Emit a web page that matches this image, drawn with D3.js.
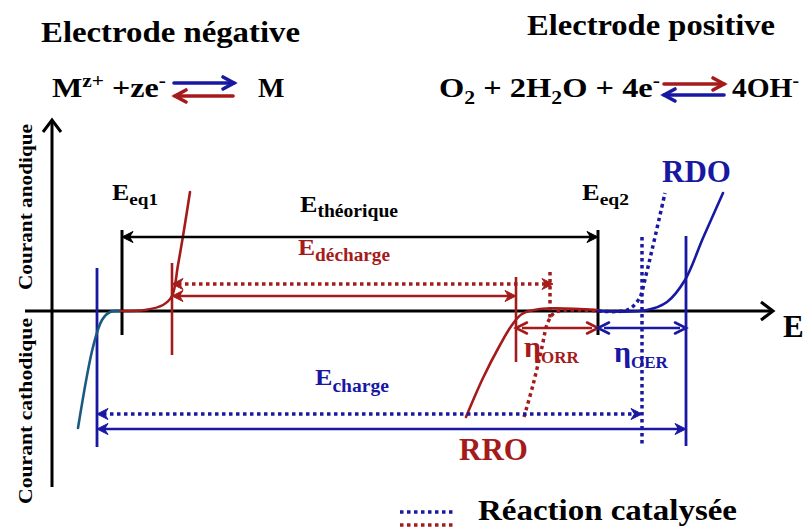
<!DOCTYPE html>
<html><head><meta charset="utf-8">
<script src="https://cdn.jsdelivr.net/npm/d3@7"></script>
<style>
html,body{margin:0;padding:0;background:#fff;}
svg{display:block;font-family:"Liberation Serif","Times New Roman",serif;font-weight:bold;}
</style></head>
<body>
<svg id="c" width="806" height="529"></svg>
<script>
// ---- data (potential E in arbitrary units, current I in arbitrary units) ----
const E_DOMAIN = [-25, 723];          // extent of the E axis
const I_DOMAIN = [-176, 191];         // extent of the current axis
const eqPotentials = [72, 548];       // Eeq1, Eeq2
const eqSpan = [-24, 81];
const negTeal = [[28,-117],[43,-36],[52,-9],[60,-1],[71,0]];
const negRed = [[71,0],[95,1],[113,6],[122,15],[128,46],[134,81],[140,119]];
const orrCurve = [[416,-106],[433,-67],[450,-34],[462,-14],[472,-3],[490,2],[548,1]];
const orrCatCurve = [[474,-106],[483,-74],[492,-36],[498,-11],[506,-1],[548,0]];
const oerCurve = [[548,0],[597,1],[617,9],[635,31],[653,73],[673,118]];
const oerCatCurve = [[548,0],[577,1],[589,12],[596,36],[602,61],[615,118]];
const redMarkers = [[122,48,-44],[466,34,-51]];
const redCatMarkers = [[500,39,-9]];
const blueMarkers = [[47,43,-136],[636,75,-135]];
const blueCatMarkers = [[592,74,-136]];
const ethArrow = [72,548,74];
const dechSolid = [122,466,15];
const dechDotted = [122,503,27];
const chSolid = [47,636,-118];
const chDotted = [47,592,-103];
const etaORR = [466,548,-17];
const etaOER = [548,636,-17];

const RED = "#a51b1b", BLUE = "#1818a3", TEAL = "#1b5a80", BLACK = "#000";

const svg = d3.select("#c");
const x = d3.scaleLinear().domain([0, 725]).range([50, 775]);
const y = d3.scaleLinear().domain(I_DOMAIN).range([487, 120]);

const line = d3.line().x(d => x(d[0])).y(d => y(d[1])).curve(d3.curveCatmullRom.alpha(0.5));

// axes
const ax = svg.append("g").attr("stroke", BLACK).attr("stroke-width", 3).attr("fill", "none");
ax.append("line").attr("x1", x(E_DOMAIN[0])).attr("x2", x(E_DOMAIN[1])).attr("y1", y(0)).attr("y2", y(0));
ax.append("line").attr("x1", x(2)).attr("x2", x(2)).attr("y1", y(I_DOMAIN[0])).attr("y2", y(I_DOMAIN[1]));
ax.append("path").attr("d", `M${x(E_DOMAIN[1])-12},${y(0)-9}L${x(E_DOMAIN[1])},${y(0)}L${x(E_DOMAIN[1])-12},${y(0)+9}`);
ax.append("path").attr("d", `M${x(2)-9},${y(I_DOMAIN[1])+12}L${x(2)},${y(I_DOMAIN[1])}L${x(2)+9},${y(I_DOMAIN[1])+12}`);

// arrowhead helpers
function head(g, tx, ty, dir, color, open) {
  const L = 11, W = 5.5;
  if (open) {
    g.append("path").attr("d", `M${tx - dir*L},${ty-W}L${tx},${ty}L${tx - dir*L},${ty+W}`)
      .attr("fill","none").attr("stroke",color).attr("stroke-width",2.6).attr("stroke-linecap","round");
  } else {
    g.append("path").attr("d", `M${tx},${ty}L${tx - dir*L},${ty-W}L${tx - dir*7.5},${ty}L${tx - dir*L},${ty+W}Z`)
      .attr("fill",color).attr("stroke",color).attr("stroke-width",1);
  }
}
function dblArrow(a, color, dotted, open, heads) {
  const g = svg.append("g");
  const x0 = x(a[0]), x1 = x(a[1]), yy = y(a[2]);
  const l = g.append("line").attr("x1", x0 + 6).attr("x2", x1 - 6).attr("y1", yy).attr("y2", yy)
    .attr("stroke", color).attr("stroke-width", dotted ? 3.5 : 2.6);
  if (dotted) l.attr("stroke-dasharray", "3.5,3.5");
  if (heads !== "right") head(g, x0, yy, -1, color, open);
  if (heads !== "left") head(g, x1, yy, 1, color, open);
}

// vertical equilibrium lines
eqPotentials.forEach(e => {
  svg.append("line").attr("x1", x(e)).attr("x2", x(e)).attr("y1", y(eqSpan[0])).attr("y2", y(eqSpan[1]))
    .attr("stroke", BLACK).attr("stroke-width", 3);
});
function vmarks(arr, color, dotted, w) {
  arr.forEach(m => {
    const l = svg.append("line").attr("x1", x(m[0])).attr("x2", x(m[0])).attr("y1", y(m[1])).attr("y2", y(m[2]))
      .attr("stroke", color).attr("stroke-width", w);
    if (dotted) l.attr("stroke-dasharray", "3.5,3.5");
  });
}
vmarks(redMarkers, RED, false, 2.6);
vmarks(blueMarkers, BLUE, false, 2.8);
vmarks(redCatMarkers, RED, true, 3.5);
vmarks(blueCatMarkers, BLUE, true, 3.5);

// curves
function curve(data, color, dotted) {
  const p = svg.append("path").attr("d", line(data)).attr("fill", "none").attr("stroke", color)
    .attr("stroke-width", dotted ? 3.5 : 2.6).attr("stroke-linecap", dotted ? "butt" : "round");
  if (dotted) p.attr("stroke-dasharray", "3.5,3.5");
}
curve(negTeal, TEAL, false);
curve(negRed, RED, false);
curve(orrCurve, RED, false);
curve(orrCatCurve, RED, true);
curve(oerCurve, BLUE, false);
curve(oerCatCurve, BLUE, true);

// arrows
dblArrow(ethArrow, BLACK, false, false);
dblArrow(dechDotted, RED, true, false);
dblArrow(dechSolid, RED, false, false);
dblArrow(chDotted, BLUE, true, false);
dblArrow(chSolid, BLUE, false, false);
dblArrow(etaORR, RED, false, true);
dblArrow(etaOER, BLUE, false, true);

// ---- texts ----
function txt(px, py, parts, color, size, anchor) {
  const t = svg.append("text").attr("x", px).attr("y", py).attr("fill", color || BLACK)
    .attr("font-size", size).attr("text-anchor", anchor || "start");
  parts.forEach(p => {
    const s = t.append("tspan").text(p[0]);
    if (p[1]) s.attr("font-size", p[1]);
    if (p[2]) s.attr("dy", p[2]);
  });
  return t;
}
function fit(t, len) { return t.attr("textLength", len).attr("lengthAdjust", "spacingAndGlyphs"); }

fit(txt(41, 42, [["Electrode négative"]], BLACK, 30), 259);
fit(txt(527, 35, [["Electrode positive"]], BLACK, 30), 248);

fit(txt(52, 97, [["M"],["z+",18,-10],[" +ze",27,10],["-",18,-10]], BLACK, 27), 114);
txt(258, 97, [["M"]], BLACK, 28);
fit(txt(439, 97, [["O"],["2",18,7],[" + 2H",27,-7],["2",18,7],["O + 4e",27,-7],["-",18,-10]], BLACK, 27), 221);
fit(txt(732, 97, [["4OH"],["-",18,-10]], BLACK, 27), 67);

// reaction arrows in equations
function eqArrow(x0, x1, yy, color, dir) {
  const g = svg.append("g").attr("stroke", color).attr("stroke-width", 3.6).attr("fill", "none").attr("stroke-linecap","round");
  g.append("line").attr("x1", x0).attr("x2", x1).attr("y1", yy).attr("y2", yy);
  const tx = dir > 0 ? x1 : x0;
  g.append("path").attr("d", `M${tx - dir*11},${yy-6}L${tx},${yy}L${tx - dir*11},${yy+6}`);
}
eqArrow(174, 234, 83, BLUE, 1);
eqArrow(175, 233, 96, RED, -1);
eqArrow(664, 724, 84, RED, 1);
eqArrow(664, 724, 95, BLUE, -1);

// axis labels
svg.append("text").attr("transform", "translate(32,290) rotate(-90)").attr("font-size", 19)
  .attr("textLength", 166).attr("lengthAdjust", "spacingAndGlyphs").text("Courant anodique");
svg.append("text").attr("transform", "translate(32,504) rotate(-90)").attr("font-size", 19)
  .attr("textLength", 186).attr("lengthAdjust", "spacingAndGlyphs").text("Courant cathodique");
txt(x(733), 337, [["E"]], BLACK, 31);

// in-chart labels
fit(txt(x(62), 200, [["E",23],["eq1",17,5]], BLACK, 23), 46);
fit(txt(x(532), 200, [["E",23],["eq2",17,5]], BLACK, 23), 47);
fit(txt(x(250), 212, [["E",24],["théorique",18,5]], BLACK, 24), 98);
fit(txt(x(248), 255, [["E",24],["décharge",18,6]], RED, 24), 92);
fit(txt(x(265), 385, [["E",24],["charge",18,7]], BLUE, 24), 74);
txt(x(612), 182, [["RDO"]], BLUE, 31);
txt(x(409), 460, [["RRO"]], RED, 31);
txt(x(474), 357, [["η",30],["ORR",17,6]], RED, 30);
txt(x(564), 362, [["η",30],["OER",17,6]], BLUE, 30);

// legend
svg.append("line").attr("x1", 400).attr("x2", 456).attr("y1", 512).attr("y2", 512)
  .attr("stroke", BLUE).attr("stroke-width", 3.5).attr("stroke-dasharray", "3.5,3.5");
svg.append("line").attr("x1", 400).attr("x2", 456).attr("y1", 525).attr("y2", 525)
  .attr("stroke", RED).attr("stroke-width", 3.5).attr("stroke-dasharray", "3.5,3.5");
fit(txt(478, 520, [["Réaction catalysée"]], BLACK, 29), 259);
</script>
</body></html>
